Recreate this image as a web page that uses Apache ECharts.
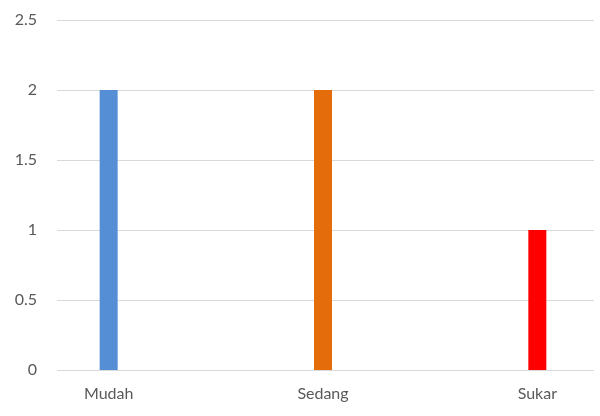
<!DOCTYPE html>
<html>
<head>
<meta charset="utf-8">
<script src="https://cdn.jsdelivr.net/npm/echarts@6/dist/echarts.min.js"></script>
<style>html,body{margin:0;padding:0;background:#fff}#c{width:600px;height:416px}</style>
</head>
<body>
<div id="c"></div>
<script>
const categories = ['Mudah', 'Sedang', 'Sukar'];
const values = [2, 2, 1];
const barColors = ['#558ED5', '#E46C0A', '#FF0000'];
const yTicks = [0, 0.5, 1, 1.5, 2, 2.5];

const chart = echarts.init(document.getElementById('c'), null, {renderer: 'canvas'});
const font = 'Lato, "Open Sans", sans-serif';
chart.setOption({
  animation: false,
  backgroundColor: '#fff',
  grid: [
    {left: 57, right: 6, top: 20, bottom: 46, outerBoundsMode: 'none', containLabel: false},
    {left: 1.5, width: 643, top: 20, bottom: 46, outerBoundsMode: 'none', containLabel: false}
  ],
  xAxis: [
    {gridIndex: 0, type: 'category', data: categories, show: false},
    {gridIndex: 1, type: 'category', data: categories,
     axisLine: {show: false}, axisTick: {show: false},
     axisLabel: {color: '#595959', fontSize: 16, fontFamily: font, margin: 16}}
  ],
  yAxis: [
    {gridIndex: 0, type: 'value', min: yTicks[0], max: yTicks[yTicks.length - 1], interval: 0.5,
     axisLine: {show: false}, axisTick: {show: false},
     axisLabel: {color: '#595959', fontSize: 16, fontFamily: font, margin: 20},
     splitLine: {lineStyle: {color: '#D9D9D9', width: 1}}},
    {gridIndex: 1, type: 'value', min: yTicks[0], max: yTicks[yTicks.length - 1], show: false}
  ],
  series: [{
    type: 'bar',
    xAxisIndex: 1, yAxisIndex: 1,
    barWidth: 18,
    data: values.map((v, i) => ({value: v, itemStyle: {color: barColors[i]}}))
  }]
});
</script>
</body>
</html>
